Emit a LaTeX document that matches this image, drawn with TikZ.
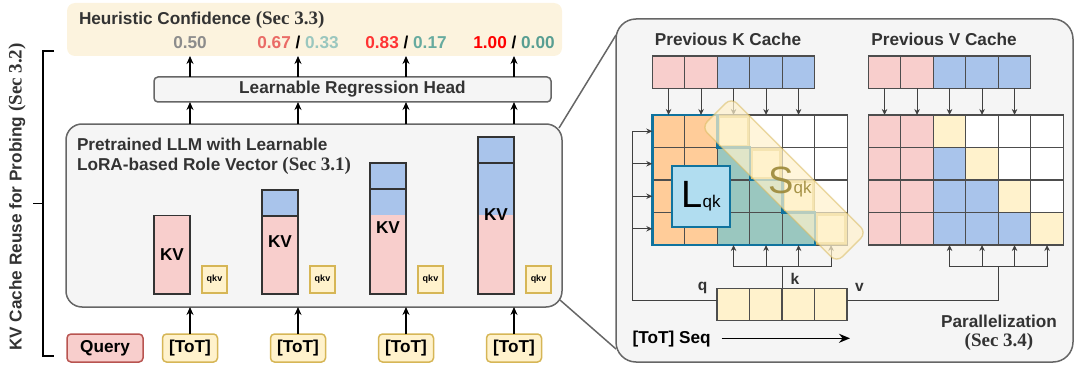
\documentclass[tikz,border=0pt]{standalone}
\usepackage{fontspec}
\setmainfont{Liberation Sans}
\newfontfamily\secf{Liberation Serif}
\usetikzlibrary{positioning,arrows.meta,calc}

\definecolor{txt}{HTML}{333333}
\definecolor{edge}{HTML}{666666}
\definecolor{panelf}{HTML}{F5F5F5}
\definecolor{beige}{HTML}{FCF3DE}
\definecolor{pinkf}{HTML}{F8CECC}
\definecolor{pinkd}{HTML}{B85450}
\definecolor{bluef}{HTML}{A9C4EB}
\definecolor{yelf}{HTML}{FFF2CC}
\definecolor{yeld}{HTML}{D6B656}
\definecolor{orgf}{HTML}{FFCC99}
\definecolor{tealf}{HTML}{9AC7BF}
\definecolor{lbluef}{HTML}{B1DDF0}
\definecolor{dblue}{HTML}{10739E}
\definecolor{gridc}{HTML}{4D4D4D}
\definecolor{arrc}{HTML}{404040}
\definecolor{sgold}{HTML}{9C8838}
\definecolor{cfifty}{HTML}{8C8C8C}
\definecolor{cred1}{HTML}{EA6B66}
\definecolor{cred2}{HTML}{FF3333}
\definecolor{cred3}{HTML}{FF0000}
\definecolor{cteal1}{HTML}{9AC7BF}
\definecolor{cteal2}{HTML}{67AB9F}
\definecolor{cteal3}{HTML}{589E92}

\newcommand\msz{\fontsize{17.2}{20}\selectfont\bfseries}
\newcommand\sectag[1]{{\secf\fontsize{19}{20}\selectfont\bfseries #1}}

\begin{document}
\begin{tikzpicture}[x=1pt, y=-1pt,
    every node/.style={inner sep=0pt, outer sep=0pt, text=txt, font=\msz},
    roundbox/.style={draw=edge, fill=panelf, line width=1.5pt},
    hbox/.style={fill=beige, rounded corners=8pt},
    uparr/.style={line width=1.5pt, -{Stealth[length=8pt,width=7pt]}},
    parr/.style={draw=arrc, line width=1pt, -{Stealth[length=6pt,width=5.5pt]}},
    pline/.style={draw=arrc, line width=1pt},
    zoomln/.style={draw=edge, line width=1.5pt},
    cell/.style={draw=gridc, line width=1.2pt, minimum size=32.5pt},
    ycell/.style={draw=yeld, line width=3pt, draw opacity=0.75},
    stair/.style={draw=dblue, line width=2.5pt, line join=miter},
    band/.style={fill=yelf, fill opacity=0.7, draw=yeld, draw opacity=0.5,
                 line width=1.4pt, rounded corners=8pt},
    barline/.style={draw=txt, line width=1.3pt},
    totbox/.style={draw=yeld, fill=yelf, line width=1.5pt, rounded corners=4pt,
                   minimum width=55pt, minimum height=28pt, text=black},
    qkvbox/.style={draw=yeld, fill=yelf, line width=2pt, minimum width=25pt,
                   minimum height=27pt, text=black,
                   font=\fontsize{9}{9}\selectfont\bfseries},
    lbl/.style={font=\fontsize{15.5}{15}\selectfont\bfseries},
  ]
  \useasboundingbox (0,0) rectangle (1080,369);

  % --- Heuristic confidence ---
  \node[hbox, minimum width=495pt, minimum height=53pt] (heur) at (314.5,29.5) {};
  \node[anchor=base west] (htitle) at (79,25) {Heuristic Confidence \sectag{(Sec 3.3)}};
  \node[anchor=base] (conf1) at (190,49) {\textcolor{cfifty}{0.50}};
  \node[anchor=base] (conf2) at (298,49) {\textcolor{cred1}{0.67} \textcolor{black}{/} \textcolor{cteal1}{0.33}};
  \node[anchor=base] (conf3) at (406,49) {\textcolor{cred2}{0.83} \textcolor{black}{/} \textcolor{cteal2}{0.17}};
  \node[anchor=base] (conf4) at (514,49) {\textcolor{cred3}{1.00} \textcolor{black}{/} \textcolor{cteal3}{0.00}};

  % --- Regression head ---
  \node[roundbox, rounded corners=4pt, minimum width=397pt, minimum height=25pt] (head) at (352.5,89.5) {Learnable Regression Head};

  % --- LLM ---
  \node[roundbox, rounded corners=16pt, minimum width=496pt, minimum height=183pt] (llm) at (314,215.5) {};
  \node[anchor=base west] (llmt1) at (77,150) {Pretrained LLM with Learnable};
  \node[anchor=base west] (llmt2) at (77,170) {LoRA-based Role Vector \sectag{(Sec 3.1)}};

  % --- KV bars, qkv and inputs ---
  \foreach \x/\top/\kvy [count=\i] in {190/215.5/255, 298/190/242, 406/163/228, 514/137/215} {
    \fill[pinkf] (\x-36,215) rectangle (\x,294);
    \fill[bluef] (\x-36,\top) rectangle (\x,215);
    \draw[barline] (\x-36,\top) rectangle (\x,294);
    \ifnum\i>1 \draw[barline] (\x-36,\top+26) -- (\x,\top+26); \fi
    \node[text=black] (kv\i) at (\x-18,\kvy) {KV};
    \node[qkvbox] (qkv\i) at (\x+24.5,279.5) {qkv};
    \node[totbox] (tot\i) at (\x,348) {[ToT]};
    \draw[uparr] (tot\i.north) -- (tot\i.north |- llm.south);
    \draw[uparr] (llm.north -| tot\i) -- (head.south -| tot\i);
    \draw[uparr] (head.north -| tot\i) -- (heur.south -| tot\i);
  }
  \node[draw=pinkd, fill=pinkf, line width=1.5pt, rounded corners=4pt,
        minimum width=76pt, minimum height=28pt, text=black] (query) at (105,348) {Query};

  % --- bracket ---
  \draw[line width=1.3pt] (54,51) -- (43,51) -- (43,356) -- (54,356);
  \draw[line width=1.3pt] (43,203.5) -- (33,203.5);
  \node[rotate=90] (vtitle) at (17,197) {KV Cache Reuse for Probing \sectag{(Sec 3.2)}};

  % --- zoom panel ---
  \node[roundbox, rounded corners=20pt, minimum width=457pt, minimum height=343pt] (panel) at (844.5,190.5) {};
  \draw[zoomln] ([xshift=-3pt,yshift=-4pt]llm.north east) -- ([yshift=-16pt]panel.north west);
  \draw[zoomln] ([xshift=-2pt,yshift=7pt]llm.south east) -- ([yshift=13pt]panel.south west);

  \node[anchor=base] (ktitle) at (728,45.5) {Previous K Cache};
  \node[anchor=base] (vtitle2) at (944,45.5) {Previous V Cache};

  % grids
  \foreach \r in {0,...,3} {
    \foreach \c in {0,...,5} {
      \ifnum\c<2 \def\kcol{orgf}\def\vcol{pinkf}%
      \else\ifnum\c=\numexpr\r+2\relax \def\kcol{yelf}\def\vcol{yelf}%
      \else\ifnum\c<\numexpr\r+2\relax \def\kcol{tealf}\def\vcol{bluef}%
      \else \def\kcol{white}\def\vcol{white}\fi\fi\fi
      \node[cell, fill=\kcol] (kg-\r-\c) at (668.55+32.5*\c, 131.25+32.5*\r) {};
      \node[cell, fill=\vcol] (vg-\r-\c) at (884.55+32.5*\c, 131.25+32.5*\r) {};
    }
  }
  \foreach \r/\c in {0/2,1/3,2/4,3/5}
    \draw[ycell] ([shift={(1.5,1.5)}]kg-\r-\c.north west) rectangle ([shift={(-1.5,-1.5)}]kg-\r-\c.south east);
  \draw[stair] (kg-0-0.north west) -- (kg-0-1.north east) -- (kg-1-1.north east)
    -- (kg-1-2.north east) -- (kg-2-2.north east) -- (kg-2-3.north east)
    -- (kg-3-3.north east) -- (kg-3-4.north east) -- (kg-3-4.south east)
    -- (kg-3-0.south west) -- cycle;

  % previous caches
  \foreach \col [count=\i from 0] in {pinkf,pinkf,bluef,bluef,bluef} {
    \node[cell, fill=\col] (kr\i) at (668.55+32.5*\i, 72.25) {};
    \node[cell, fill=\col] (vr\i) at (884.55+32.5*\i, 72.25) {};
    \draw[parr] (kr\i.south) -- (kg-0-\i.north);
    \draw[parr] (vr\i.south) -- (vg-0-\i.north);
  }

  % [ToT] sequence
  \foreach \i in {0,...,3}
    \node[cell, fill=yelf] (sq\i) at (733.25+32.5*\i, 304.5) {};
  \coordinate (qbus) at (632,131.25);
  \draw[pline] ([yshift=4.5pt]sq0.west) -| (qbus);
  \foreach \r in {0,...,3}
    \draw[parr] (qbus |- kg-\r-0.west) -- (kg-\r-0.west);
  \coordinate (kbus) at ([yshift=21.6pt]sq1.north east);
  \draw[pline] (sq1.north east) -- (kbus);
  \draw[pline] (kbus -| kg-3-2) -- (kbus -| kg-3-5);
  \foreach \c in {2,...,5}
    \draw[parr] (kbus -| kg-3-\c) -- (kg-3-\c.south);
  \coordinate (vbus) at (vg-3-3.east |- kbus);
  \draw[pline] ([yshift=4.5pt]sq3.east) -| (vbus);
  \draw[pline] (vbus -| vg-3-2) -- (vbus -| vg-3-5);
  \foreach \c in {2,...,5}
    \draw[parr] (vbus -| vg-3-\c) -- (vg-3-\c.south);
  \node[lbl, anchor=base] (qlbl) at (702.5,290.5) {q};
  \node[lbl, anchor=base] (klbl) at (795,284.3) {k};
  \node[lbl, anchor=base] (vlbl) at (859.5,291.5) {v};

  % attention band
  \node[band, rotate=-45, minimum width=191pt, minimum height=42pt] (sband) at (784,180) {};
  \node[draw=dblue, fill=lbluef, line width=1.5pt, minimum width=58pt, minimum height=61pt,
        text=black, font=\fontsize{17}{17}\selectfont] (lqk) at (701,196.5)
        {{\fontsize{38}{38}\selectfont L}qk};
  \node[text=sgold, text opacity=0.9, font=\fontsize{17}{17}\selectfont] (sqk) at (790,182)
        {{\fontsize{38}{38}\selectfont S}qk};

  % --- bottom labels ---
  \node[anchor=base west, text=black] (seqlbl) at (632.7,343.5) {[ToT] Seq};
  \coordinate (seqend) at (850,338.3);
  \draw[line width=1.6pt, -{Stealth[length=11pt,width=9pt]}] (seqlbl.east |- seqend) ++(11,0) -- (seqend);
  \node[anchor=base] (paral) at (999,327.3) {Parallelization};
  \node[anchor=base] (paralsec) at (999,346.5) {\sectag{(Sec 3.4)}};
\end{tikzpicture}
\end{document}
